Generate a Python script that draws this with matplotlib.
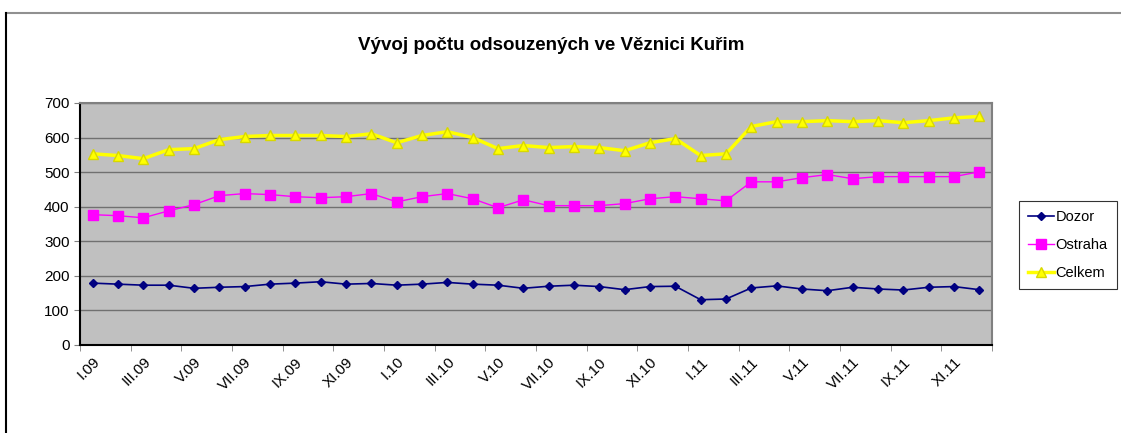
import matplotlib.pyplot as plt
import numpy as np

plt.rcParams['font.family'] = ['Liberation Sans', 'DejaVu Sans']

# mesice I.09 .. XII.11
mesice = ['I', 'II', 'III', 'IV', 'V', 'VI', 'VII', 'VIII', 'IX', 'X', 'XI', 'XII']
roky = ['09', '10', '11']
kategorie = [m + '.' + r for r in roky for m in mesice]

dozor = [179, 176, 173, 173, 164, 167, 169, 176, 179, 183, 176, 178,
         173, 176, 181, 176, 173, 164, 170, 173, 169, 160, 169, 170,
         131, 133, 165, 171, 162, 157, 167, 162, 159, 167, 169, 160]
ostraha = [377, 374, 368, 388, 406, 432, 438, 435, 429, 426, 429, 438,
           414, 429, 438, 423, 397, 420, 403, 403, 403, 409, 423, 429,
           423, 417, 472, 472, 484, 493, 481, 487, 487, 487, 487, 501]
celkem = [553, 548, 539, 565, 568, 594, 603, 606, 606, 606, 603, 611,
          585, 606, 617, 600, 568, 577, 571, 574, 571, 562, 585, 597,
          548, 553, 632, 646, 646, 649, 646, 649, 643, 649, 657, 661]

x = np.arange(len(kategorie))

fig = plt.figure(figsize=(11.21, 4.33), dpi=100)
ax = fig.add_axes([80 / 1121, 1 - 345 / 433, 912 / 1121, 242 / 433])
ax.set_facecolor('#C0C0C0')

ax.plot(x, dozor, color='#000080', lw=1.2, marker='D', ms=4.5, label='Dozor')
ax.plot(x, ostraha, color='#FF00FF', lw=1.0, marker='s', ms=7, label='Ostraha')
ax.plot(x, celkem, color='#FFFF00', lw=2.5, marker='^', ms=7,
        markeredgecolor='#D8D800', label='Celkem')

ax.set_xlim(-0.5, len(kategorie) - 0.5)
ax.set_ylim(0, 700)
ax.set_yticks(range(0, 701, 100))
ax.yaxis.grid(True, color='#707070', lw=1)
ax.set_axisbelow(True)

ax.set_xticks(x[::2])
ax.set_xticklabels(kategorie[::2], rotation=45, ha='right', rotation_mode='anchor',
                   fontsize=11)
ax.tick_params(axis='x', length=0, pad=7)
ax.set_xticks(np.arange(-0.5, len(kategorie), 2), minor=True)
ax.tick_params(axis='x', which='minor', length=4, color='#808080')
ax.tick_params(axis='y', labelsize=11, length=4, color='#808080')

for s in ['left', 'bottom']:
    ax.spines[s].set_color('black')
    ax.spines[s].set_linewidth(1.5)
for s in ['top', 'right']:
    ax.spines[s].set_color('#808080')
    ax.spines[s].set_linewidth(1.5)

fig.text(551 / 1121, 1 - 46 / 433, 'Vývoj počtu odsouzených ve Věznici Kuřim',
         ha='center', va='center', fontsize=13.5, fontweight='bold')

leg = fig.legend(loc='upper left', bbox_to_anchor=(1012 / 1121, 1 - 194 / 433),
                 frameon=True, fancybox=False, fontsize=10.5, handlelength=1.8,
                 handletextpad=0.1, borderpad=0.6, labelspacing=0.95)
leg.get_frame().set_edgecolor('black')
leg.get_frame().set_linewidth(0.8)

# okraj grafu
fig.add_artist(plt.Line2D([6 / 1121, 1], [1 - 13 / 433] * 2, color='#909090', lw=1.5))
fig.add_artist(plt.Line2D([6 / 1121] * 2, [0, 1 - 13 / 433], color='black', lw=1.5))

fig.savefig('out.png', dpi=100)
